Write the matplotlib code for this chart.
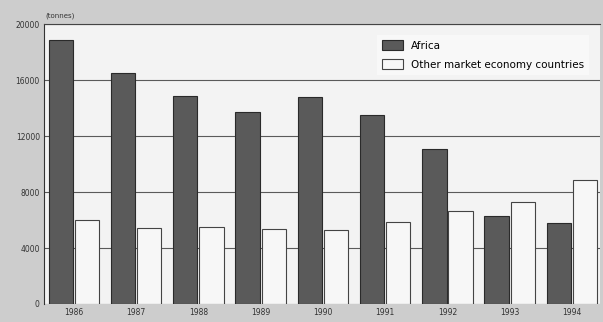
import numpy as np
import matplotlib
matplotlib.use('Agg')
import matplotlib.pyplot as plt

years = ['1986', '1987', '1988', '1989', '1990', '1991', '1992', '1993', '1994']
africa = [18900, 16500, 14900, 13700, 14800, 13500, 11100, 6300, 5800]
other = [6000, 5400, 5500, 5350, 5300, 5850, 6650, 7300, 8850]
yticks = [0, 4000, 8000, 12000, 16000, 20000]

fig = plt.figure(figsize=(6.03, 3.22), dpi=100, facecolor='#cdcdcd')
ax = fig.add_axes([0.073, 0.056, 0.922, 0.869], facecolor='#f3f3f3')

x = np.arange(len(years))
w = 0.39
ax.bar(x - 0.21, africa, width=w, color='#5a5a5a', edgecolor='#2a2a2a', linewidth=0.8,
       label='Africa', zorder=3)
ax.bar(x + 0.21, other, width=w, color='#f7f7f7', edgecolor='#444444', linewidth=0.8,
       label='Other market economy countries', zorder=3)

ax.set_xlim(-0.48, 8.45)
ax.set_ylim(0, 20000)
ax.set_yticks(yticks)
ax.set_yticklabels([str(v) for v in yticks], fontsize=5.5, color='#333333')
ax.set_xticks(x)
ax.set_xticklabels(years, fontsize=5.5, color='#333333')
ax.tick_params(length=0, pad=3)
ax.yaxis.grid(True, color='#5a5a5a', linewidth=0.8, zorder=1)
ax.set_axisbelow(True)
for s in ['right', 'bottom']:
    ax.spines[s].set_visible(False)
ax.spines['left'].set_color('#333333')
ax.spines['top'].set_color('#444444')
ax.spines['left'].set_linewidth(0.8)

fig.text(0.075, 0.945, '(tonnes)', fontsize=5, color='#333333')

leg = ax.legend(loc='upper right', bbox_to_anchor=(0.99, 0.98), fontsize=7.5, frameon=True,
                facecolor='#f8f8f8', edgecolor='none', fancybox=False,
                handlelength=2.0, handleheight=1.1, borderpad=0.5, labelspacing=0.8)
leg.get_frame().set_alpha(1)

fig.savefig('out.png', dpi=100, facecolor=fig.get_facecolor())
